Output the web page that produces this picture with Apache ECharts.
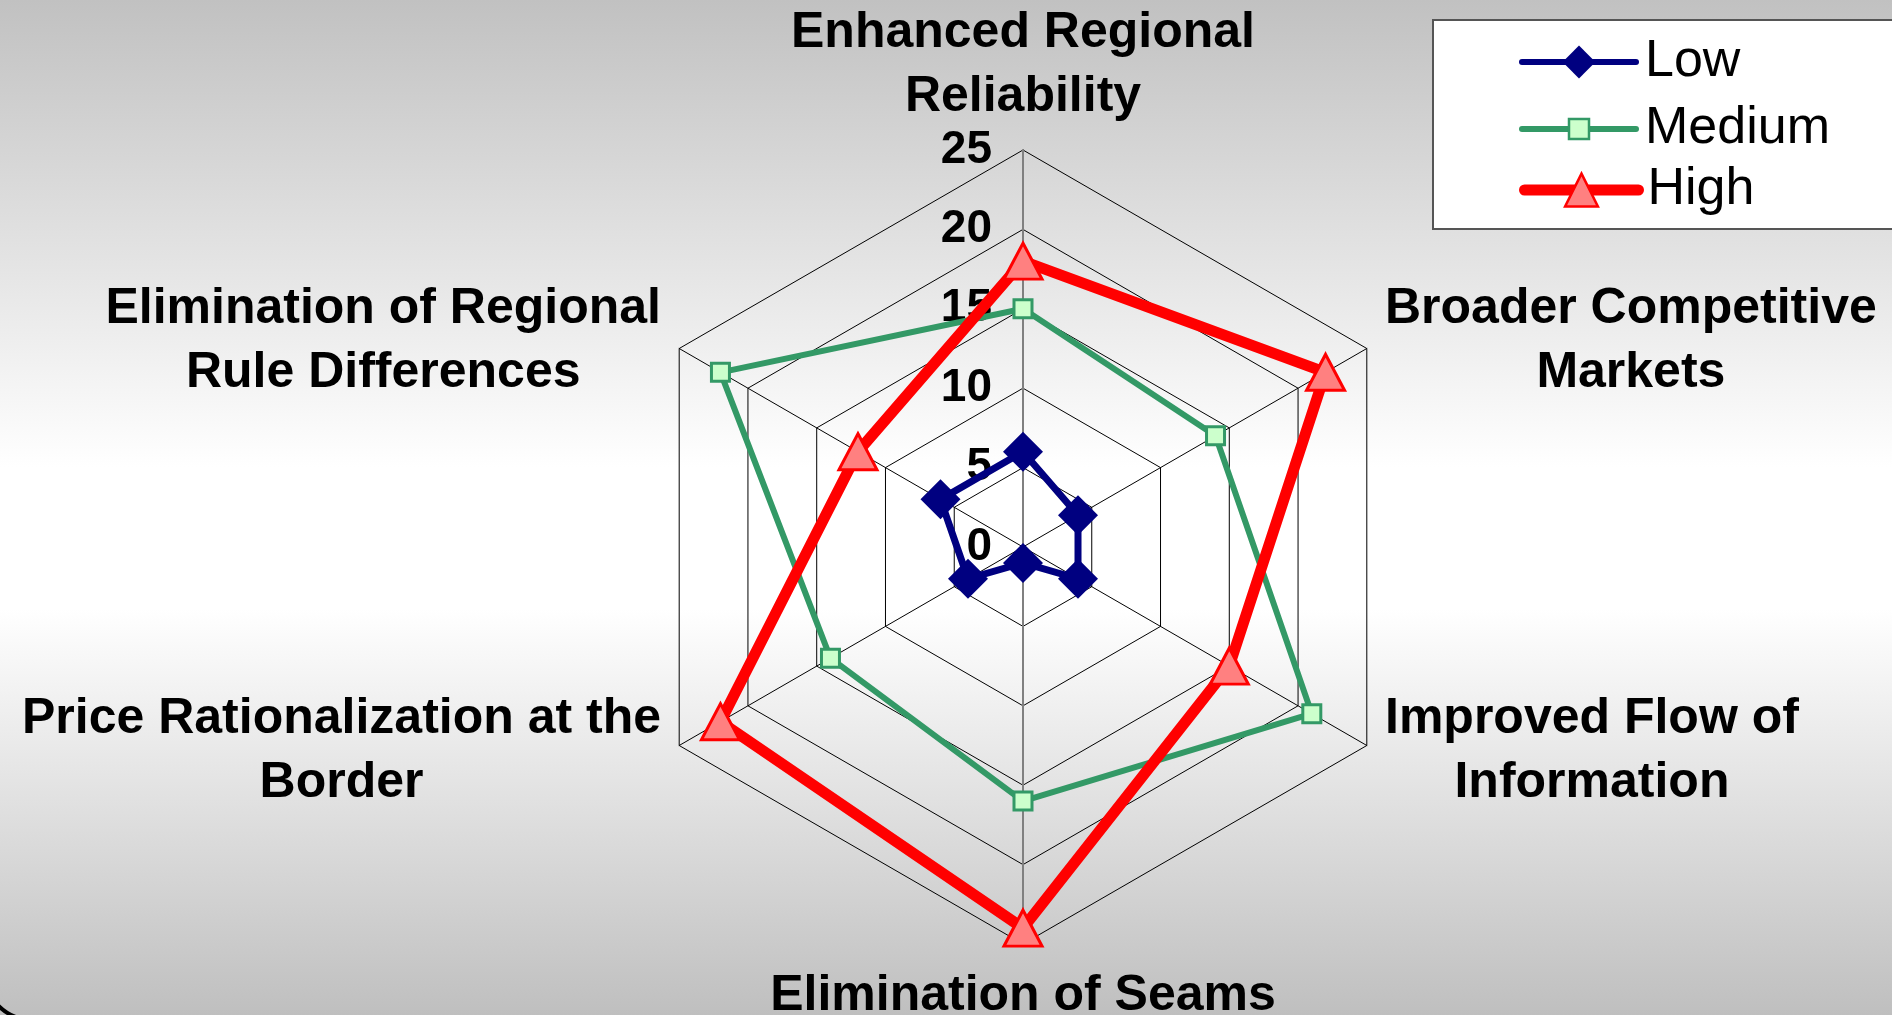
<!DOCTYPE html>
<html>
<head>
<meta charset="utf-8">
<script src="https://cdn.jsdelivr.net/npm/echarts@6/dist/echarts.min.js"></script>
<style>
html,body{margin:0;padding:0;width:1892px;height:1015px;overflow:hidden;}
body{background:linear-gradient(to bottom,#c1c1c1 0%,#ffffff 46%,#ffffff 60%,#bfbfbf 100%);}
#chart{width:1892px;height:1015px;}
</style>
</head>
<body>
<div id="chart"></div>
<script>
// Indicators in ECharts drawing order (counter-clockwise starting at the top)
const categories = [
  'Enhanced Regional\nReliability',
  'Elimination of Regional\nRule Differences',
  'Price Rationalization at the\nBorder',
  'Elimination of Seams',
  'Improved Flow of\nInformation',
  'Broader Competitive\nMarkets'
];
const seriesNames = ['Low', 'Medium', 'High'];
const lowValues = [6, 6, 4, 1, 4, 4];
const mediumValues = [15, 22, 14, 16, 21, 14];
const highValues = [18, 12, 22, 24, 15, 22];
const axisMin = 0;
const axisMax = 25;
const tickStep = 5;

const FONT = '"Liberation Sans", Arial, sans-serif';
const cx = 1023, cy = 547, R = 397;

const valueSets = [lowValues, mediumValues, highValues];
const looks = [
  {symbol: 'diamond', size: 40, line: '#000080', width: 7, fill: '#000080', border: '#000080', bw: 0,
   legendH: 41, legendLine: 6, legendBW: 0, row: 62},
  {symbol: 'rect', size: 18, line: '#339966', width: 6, fill: '#ccffcc', border: '#339966', bw: 3,
   legendH: 25, legendLine: 6, legendBW: 2.5, row: 129},
  {symbol: 'triangle', size: [38, 36], line: '#ff0000', width: 11, fill: '#ff8080', border: '#ff0000', bw: 3,
   legendH: 41, legendLine: 11, legendBW: 2.5, row: 190}
];

const nameStyle = {fontSize: 50, fontWeight: 'bold', fontFamily: FONT, color: '#000', align: 'center'};

function nameFormatter(name) {
  const idx = categories.indexOf(name);
  const ang = (90 + idx * 360 / categories.length) * Math.PI / 180;
  const s = Math.sin(ang), c = Math.cos(ang);
  const isBottom = Math.abs(c) < 1e-6 && s < 0;
  const styleName = isBottom ? 'b' : 't';
  let txt = name.split('\n').map(l => '{' + styleName + '|' + l + '}').join('\n');
  if (Math.abs(c) > 1e-6) {
    if (s > 0) txt = '{u| }\n' + txt;   // upper side labels
    else txt += '\n{d| }';              // lower side labels
  }
  return txt;
}

// dummy line series only provide the line+marker legend icons (no data)
const legendSeries = seriesNames.map((n, i) => ({
  type: 'line', name: n, xAxisIndex: 0, yAxisIndex: 0, data: [],
  symbol: looks[i].symbol, symbolSize: looks[i].size,
  lineStyle: {color: looks[i].line, width: looks[i].width},
  itemStyle: {color: looks[i].fill, borderColor: looks[i].border, borderWidth: looks[i].bw}
}));

const radarSeries = seriesNames.map((n, i) => ({
  type: 'radar', name: n, radarIndex: 0, z: 3 + i,
  symbol: looks[i].symbol, symbolSize: looks[i].size,
  lineStyle: {color: looks[i].line, width: looks[i].width, join: 'round'},
  itemStyle: {color: looks[i].fill, borderColor: looks[i].border, borderWidth: looks[i].bw},
  emphasis: {disabled: true},
  data: [{name: n, value: valueSets[i]}]
}));

const option = {
  animation: false,
  backgroundColor: 'transparent',
  graphic: {elements: [
    {type: 'rect', z: 1, shape: {x: 1433, y: 20, width: 480, height: 209},
     style: {fill: '#ffffff', stroke: '#555555', lineWidth: 2}},
    {type: 'rect', z: 10, silent: true, shape: {x: -16, y: -100, width: 2000, height: 1120, r: 49},
     style: {fill: null, stroke: '#000000', lineWidth: 4}}
  ]},
  legend: seriesNames.map((n, i) => ({
    data: [n], orient: 'vertical', left: 1519, top: looks[i].row - 26, padding: 0,
    itemWidth: 114, itemHeight: looks[i].legendH,
    textStyle: {fontSize: 52, fontFamily: FONT, color: '#000', padding: [0, 0, 0, 4]},
    lineStyle: {color: looks[i].line, width: looks[i].legendLine, cap: 'round'},
    itemStyle: {color: looks[i].fill, borderColor: looks[i].border, borderWidth: looks[i].legendBW}
  })),
  grid: {left: cx, top: cy - R, width: 10, height: 2 * R, containLabel: false},
  xAxis: {type: 'value', show: false, min: 0, max: 1},
  yAxis: {
    type: 'value', min: -axisMax, max: axisMax, interval: tickStep, z: 1,
    axisLine: {show: true, lineStyle: {color: '#808080', width: 2}},
    axisTick: {show: false}, splitLine: {show: false},
    axisLabel: {
      margin: 31, fontSize: 46, fontWeight: 'bold', fontFamily: FONT, color: '#000',
      formatter: v => (v >= axisMin ? String(v) : '')
    }
  },
  radar: {
    center: [cx, cy], radius: R, startAngle: 90, shape: 'polygon', splitNumber: 5, z: 0,
    indicator: categories.map(c => ({name: c, min: axisMin, max: axisMax})),
    nameGap: 21,
    axisName: {
      show: true, color: '#000', fontSize: 50, fontWeight: 'bold', fontFamily: FONT,
      formatter: nameFormatter,
      rich: {
        t: Object.assign({lineHeight: 64}, nameStyle),
        b: Object.assign({lineHeight: 62}, nameStyle),
        u: {fontSize: 6, lineHeight: 6},
        d: {fontSize: 10, lineHeight: 10}
      }
    },
    axisLine: {lineStyle: {color: '#000', width: 1}},
    splitLine: {lineStyle: {color: '#000', width: 1}},
    splitArea: {show: false},
    axisTick: {show: false},
    axisLabel: {show: false}
  },
  series: legendSeries.concat(radarSeries)
};

const chart = echarts.init(document.getElementById('chart'));
chart.setOption(option);
</script>
</body>
</html>
